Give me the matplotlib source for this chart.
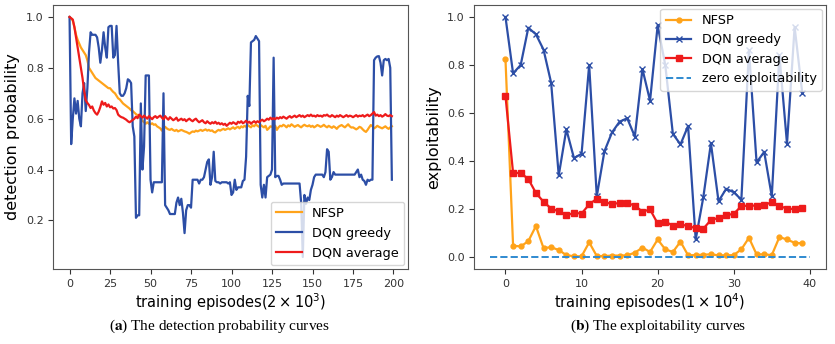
import matplotlib
matplotlib.use('Agg')
import matplotlib.pyplot as plt

# ---- left panel: detection probability (200 evaluation points, x 2e3 episodes)
EPISODES_A = list(range(200))

NFSP_A = [
    1.0, 0.995, 0.985, 0.96, 0.93, 0.91, 0.895, 0.88, 0.87, 0.86, 0.85, 0.83, 0.80, 0.79, 0.78, 0.77, 0.76, 0.755, 0.75, 0.745,
    0.74, 0.735, 0.73, 0.725, 0.72, 0.72, 0.712, 0.705, 0.70, 0.69, 0.68, 0.676, 0.668, 0.66, 0.655, 0.65, 0.645, 0.64, 0.633, 0.63,
    0.624, 0.618, 0.614, 0.608, 0.60, 0.592, 0.586, 0.58, 0.586, 0.58, 0.578, 0.582, 0.576, 0.578, 0.57, 0.566, 0.562, 0.553, 0.566, 0.568,
    0.562, 0.558, 0.556, 0.56, 0.555, 0.552, 0.556, 0.55, 0.553, 0.556, 0.553, 0.55, 0.548, 0.545, 0.541, 0.546, 0.55, 0.548, 0.553, 0.55,
    0.553, 0.556, 0.552, 0.555, 0.558, 0.553, 0.556, 0.552, 0.554, 0.548, 0.546, 0.552, 0.556, 0.553, 0.557, 0.56, 0.556, 0.559, 0.562, 0.558,
    0.562, 0.566, 0.56, 0.565, 0.568, 0.562, 0.57, 0.566, 0.572, 0.568, 0.575, 0.57, 0.566, 0.574, 0.57, 0.578, 0.572, 0.568, 0.575, 0.57,
    0.566, 0.572, 0.556, 0.562, 0.57, 0.568, 0.575, 0.572, 0.556, 0.566, 0.572, 0.57, 0.576, 0.572, 0.566, 0.574, 0.57, 0.578, 0.573, 0.568,
    0.572, 0.575, 0.57, 0.566, 0.572, 0.576, 0.572, 0.57, 0.574, 0.568, 0.572, 0.566, 0.57, 0.575, 0.572, 0.568, 0.571, 0.576, 0.57, 0.566,
    0.572, 0.568, 0.564, 0.57, 0.566, 0.56, 0.568, 0.572, 0.575, 0.57, 0.566, 0.572, 0.578, 0.57, 0.565, 0.566, 0.562, 0.558, 0.562, 0.568,
    0.565, 0.558, 0.552, 0.548, 0.556, 0.566, 0.575, 0.57, 0.562, 0.566, 0.572, 0.568, 0.565, 0.562, 0.566, 0.57, 0.564, 0.56, 0.566, 0.57,
]

DQN_GREEDY_A = [
    1.0, 0.50, 0.60, 0.68, 0.62, 0.67, 0.60, 0.57, 0.70, 0.74, 0.63, 0.72, 0.86, 0.94, 0.93, 0.93, 0.93, 0.92, 0.88, 0.82,
    0.87, 0.94, 0.88, 0.84, 0.96, 0.965, 0.965, 0.84, 0.85, 0.965, 0.82, 0.70, 0.69, 0.69, 0.70, 0.72, 0.755, 0.75, 0.74, 0.57,
    0.53, 0.21, 0.22, 0.22, 0.66, 0.40, 0.49, 0.77, 0.77, 0.77, 0.36, 0.31, 0.35, 0.35, 0.35, 0.35, 0.35, 0.35, 0.70, 0.26,
    0.25, 0.24, 0.225, 0.225, 0.225, 0.225, 0.27, 0.29, 0.26, 0.285, 0.23, 0.15, 0.24, 0.26, 0.26, 0.25, 0.36, 0.36, 0.36, 0.36,
    0.345, 0.36, 0.36, 0.37, 0.40, 0.43, 0.44, 0.34, 0.37, 0.47, 0.355, 0.35, 0.35, 0.345, 0.35, 0.35, 0.35, 0.35, 0.345, 0.35,
    0.30, 0.31, 0.36, 0.32, 0.33, 0.33, 0.33, 0.355, 0.36, 0.45, 0.69, 0.65, 0.90, 0.905, 0.91, 0.925, 0.915, 0.905, 0.34, 0.29,
    0.34, 0.29, 0.37, 0.375, 0.38, 0.40, 0.84, 0.37, 0.375, 0.375, 0.36, 0.34, 0.345, 0.345, 0.345, 0.345, 0.345, 0.345, 0.345, 0.345,
    0.345, 0.345, 0.345, 0.27, 0.056, 0.30, 0.265, 0.29, 0.28, 0.32, 0.34, 0.37, 0.38, 0.38, 0.38, 0.38, 0.38, 0.37, 0.39, 0.48,
    0.47, 0.36, 0.37, 0.39, 0.38, 0.38, 0.38, 0.38, 0.38, 0.38, 0.38, 0.38, 0.38, 0.38, 0.38, 0.38, 0.38, 0.39, 0.40, 0.37,
    0.38, 0.36, 0.355, 0.34, 0.36, 0.355, 0.36, 0.36, 0.83, 0.84, 0.845, 0.846, 0.82, 0.77, 0.83, 0.835, 0.83, 0.835, 0.80, 0.36,
]

DQN_AVERAGE_A = [
    1.0, 0.995, 0.99, 0.96, 0.92, 0.88, 0.84, 0.80, 0.76, 0.71, 0.672, 0.662, 0.654, 0.642, 0.648, 0.632, 0.622, 0.616, 0.628, 0.646,
    0.668, 0.655, 0.662, 0.648, 0.656, 0.645, 0.648, 0.64, 0.642, 0.634, 0.616, 0.61, 0.606, 0.604, 0.6, 0.596, 0.59, 0.586, 0.59, 0.595,
    0.60, 0.608, 0.602, 0.616, 0.61, 0.604, 0.612, 0.606, 0.60, 0.61, 0.604, 0.598, 0.606, 0.61, 0.603, 0.608, 0.612, 0.604, 0.598, 0.61,
    0.602, 0.596, 0.606, 0.6, 0.594, 0.598, 0.604, 0.592, 0.596, 0.6, 0.594, 0.598, 0.59, 0.596, 0.6, 0.594, 0.59, 0.596, 0.6, 0.592,
    0.586, 0.59, 0.594, 0.586, 0.582, 0.59, 0.584, 0.58, 0.586, 0.582, 0.588, 0.58, 0.584, 0.578, 0.582, 0.576, 0.58, 0.572, 0.578, 0.584,
    0.58, 0.586, 0.582, 0.578, 0.588, 0.584, 0.59, 0.582, 0.586, 0.592, 0.584, 0.588, 0.58, 0.586, 0.59, 0.584, 0.59, 0.586, 0.592, 0.596,
    0.59, 0.594, 0.6, 0.596, 0.604, 0.598, 0.602, 0.598, 0.604, 0.6, 0.606, 0.602, 0.608, 0.604, 0.6, 0.606, 0.61, 0.604, 0.608, 0.612,
    0.606, 0.61, 0.614, 0.608, 0.612, 0.606, 0.61, 0.614, 0.61, 0.616, 0.61, 0.612, 0.608, 0.614, 0.61, 0.612, 0.608, 0.614, 0.612, 0.616,
    0.61, 0.608, 0.614, 0.61, 0.606, 0.612, 0.608, 0.614, 0.61, 0.606, 0.61, 0.614, 0.608, 0.612, 0.61, 0.606, 0.61, 0.614, 0.608, 0.612,
    0.61, 0.614, 0.608, 0.612, 0.616, 0.61, 0.614, 0.62, 0.626, 0.612, 0.616, 0.61, 0.614, 0.608, 0.612, 0.618, 0.612, 0.61, 0.614, 0.61,
]

# ---- right panel: exploitability (40 evaluation points, x 1e4 episodes)
EPISODES_B = list(range(40))

NFSP_B = [
    0.823, 0.047, 0.044, 0.066, 0.129, 0.037, 0.041, 0.029, 0.008, 0.003,
    0.003, 0.061, 0.004, 0.004, 0.006, 0.006, 0.007, 0.018, 0.039, 0.021,
    0.073, 0.032, 0.021, 0.064, 0.007, 0.008, 0.010, 0.011, 0.007, 0.007,
    0.008, 0.032, 0.080, 0.011, 0.011, 0.008, 0.083, 0.073, 0.059, 0.057,
]

DQN_GREEDY_B = [
    1.0, 0.765, 0.80, 0.955, 0.928, 0.864, 0.726, 0.34, 0.532, 0.412,
    0.43, 0.80, 0.253, 0.44, 0.519, 0.564, 0.578, 0.502, 0.783, 0.651,
    0.965, 0.80, 0.513, 0.469, 0.546, 0.073, 0.249, 0.474, 0.232, 0.284,
    0.27, 0.239, 0.862, 0.394, 0.438, 0.253, 0.841, 0.472, 0.958, 0.685,
]

DQN_AVERAGE_B = [
    0.671, 0.35, 0.35, 0.325, 0.267, 0.23, 0.202, 0.19, 0.173, 0.184,
    0.181, 0.219, 0.243, 0.228, 0.221, 0.225, 0.225, 0.214, 0.189, 0.198,
    0.14, 0.147, 0.131, 0.136, 0.129, 0.12, 0.118, 0.154, 0.163, 0.174,
    0.18, 0.212, 0.214, 0.214, 0.217, 0.228, 0.212, 0.202, 0.199, 0.203,
]

ZERO_X = [-2, 40]
ZERO_Y = [0, 0]

ORANGE = '#ffa31a'
BLUE = '#2c4ea6'
RED = '#ee1b1b'
LIGHT_BLUE = '#2f8ad0'

LEGEND_SIZE = 9.3


def style_axes(ax):
    for s in ax.spines.values():
        s.set_color('#555555')
    ax.tick_params(labelsize=8, colors='#333333', length=3.5)


def main():
    plt.rcParams['mathtext.fontset'] = 'dejavusans'
    fig = plt.figure(figsize=(8.35, 3.44), dpi=100)

    ax1 = fig.add_axes([0.064, 0.218, 0.4246, 0.7675])
    ax1.plot(EPISODES_A, NFSP_A, color=ORANGE, lw=1.6, label='NFSP')
    ax1.plot(EPISODES_A, DQN_GREEDY_A, color=BLUE, lw=1.6, label='DQN greedy')
    ax1.plot(EPISODES_A, DQN_AVERAGE_A, color=RED, lw=1.6, label='DQN average')
    ax1.set_ylabel('detection probability', fontsize=11.5)
    ax1.set_xlabel(r'training episodes($2\times10^{3}$)', fontsize=10.5,
                   labelpad=1.5)
    ax1.set_xticks([0, 25, 50, 75, 100, 125, 150, 175, 200])
    ax1.set_yticks([0.2, 0.4, 0.6, 0.8, 1.0])
    ax1.legend(loc='lower right', fontsize=LEGEND_SIZE, handlelength=2.0,
               borderaxespad=0.3, labelspacing=0.55)
    style_axes(ax1)

    ax2 = fig.add_axes([0.568, 0.218, 0.421, 0.7675])
    ax2.plot(EPISODES_B, NFSP_B, color=ORANGE, lw=1.6, marker='o',
             markersize=3.5, label='NFSP')
    ax2.plot(EPISODES_B, DQN_GREEDY_B, color=BLUE, lw=1.6, marker='x',
             markersize=5, label='DQN greedy')
    ax2.plot(EPISODES_B, DQN_AVERAGE_B, color=RED, lw=1.6, marker='s',
             markersize=4, label='DQN average')
    ax2.plot(ZERO_X, ZERO_Y, color=LIGHT_BLUE, lw=1.4, ls='--',
             label='zero exploitability')
    ax2.set_ylabel('exploitability', fontsize=11.5)
    ax2.set_xlabel(r'training episodes($1\times10^{4}$)', fontsize=10.5,
                   labelpad=1.5)
    ax2.set_xticks([0, 10, 20, 30, 40])
    ax2.set_yticks([0.0, 0.2, 0.4, 0.6, 0.8, 1.0])
    ax2.legend(loc='upper right', fontsize=LEGEND_SIZE, handlelength=2.0,
               borderaxespad=0.3)
    style_axes(ax2)

    fig.text(0.263, 0.04, r'($\mathbf{a}$) The detection probability curves',
             ha='center', fontsize=11, family='Liberation Serif',
             math_fontfamily='stix')
    fig.text(0.788, 0.04, r'($\mathbf{b}$) The exploitability curves',
             ha='center', fontsize=11, family='Liberation Serif',
             math_fontfamily='stix')

    fig.savefig('out.png', dpi=100)
    plt.close(fig)


if __name__ == '__main__':
    main()
